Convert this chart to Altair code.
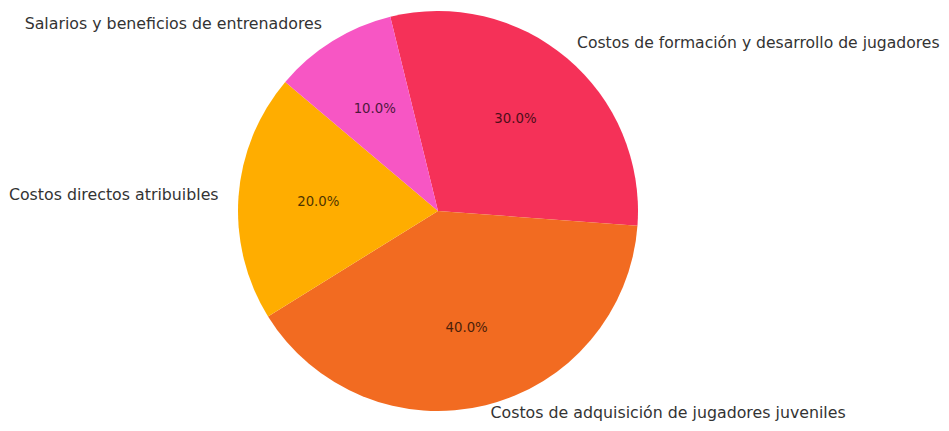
import math
import altair as alt
import pandas as pd

categories = [
    "Costos de formación y desarrollo de jugadores",
    "Costos de adquisición de jugadores juveniles",
    "Costos directos atribuibles",
    "Salarios y beneficios de entrenadores",
]
values = [30, 40, 20, 10]
colors = ["#F53158", "#F26B21", "#FFAD00", "#F756C4"]
sides = ["right", "bottom", "left", "left"]

df = pd.DataFrame({
    "categoria": categories,
    "valor": values,
    "orden": list(range(len(categories))),
    "lado": sides,
    "pct": [f"{v / sum(values) * 100:.1f}%" for v in values],
})

start = 2 * math.pi - math.radians(13.8)
theta_scale = alt.Scale(domain=[0, sum(values)], range=[start, start + 2 * math.pi])
color_scale = alt.Scale(domain=categories, range=colors)

base = alt.Chart(df).transform_window(
    fin="sum(valor)", sort=[alt.SortField("orden")]
).transform_calculate(
    ini="datum.fin - datum.valor",
    mid="datum.fin - datum.valor / 2",
)

arcs = base.mark_arc(radius=200, stroke=None).encode(
    theta=alt.Theta("ini:Q", scale=theta_scale, stack=None),
    theta2="fin:Q",
    color=alt.Color("categoria:N", scale=color_scale, legend=None),
)

pct = base.mark_text(
    radius=120, font="DejaVu Sans", fontSize=13.3, color="#000000", opacity=0.7
).encode(
    theta=alt.Theta("mid:Q", scale=theta_scale, stack=None),
    text="pct:N",
)


def label_layer(side, align, size, dx=0, dy=0):
    return base.transform_filter(alt.datum.lado == side).mark_text(
        radius=220, font="DejaVu Sans", fontSize=size, color="#333333",
        align=align, baseline="middle", dx=dx, dy=dy,
    ).encode(
        theta=alt.Theta("mid:Q", scale=theta_scale, stack=None),
        text="categoria:N",
    )


lab_right = label_layer("right", "left", 15.6, dx=-3)
lab_bottom = label_layer("bottom", "left", 15.8, dy=-12)
lab_left = label_layer("left", "right", 15.8)

chart = alt.layer(arcs, pct, lab_right, lab_bottom, lab_left).properties(
    width=860,
    height=406,
    padding={"left": 0, "top": 0, "right": 73, "bottom": 9},
    autosize=alt.AutoSizeParams(type="none"),
).configure_view(stroke=None).configure(background="white")

chart.save("out.html", embed_options={"renderer": "svg", "actions": False})
